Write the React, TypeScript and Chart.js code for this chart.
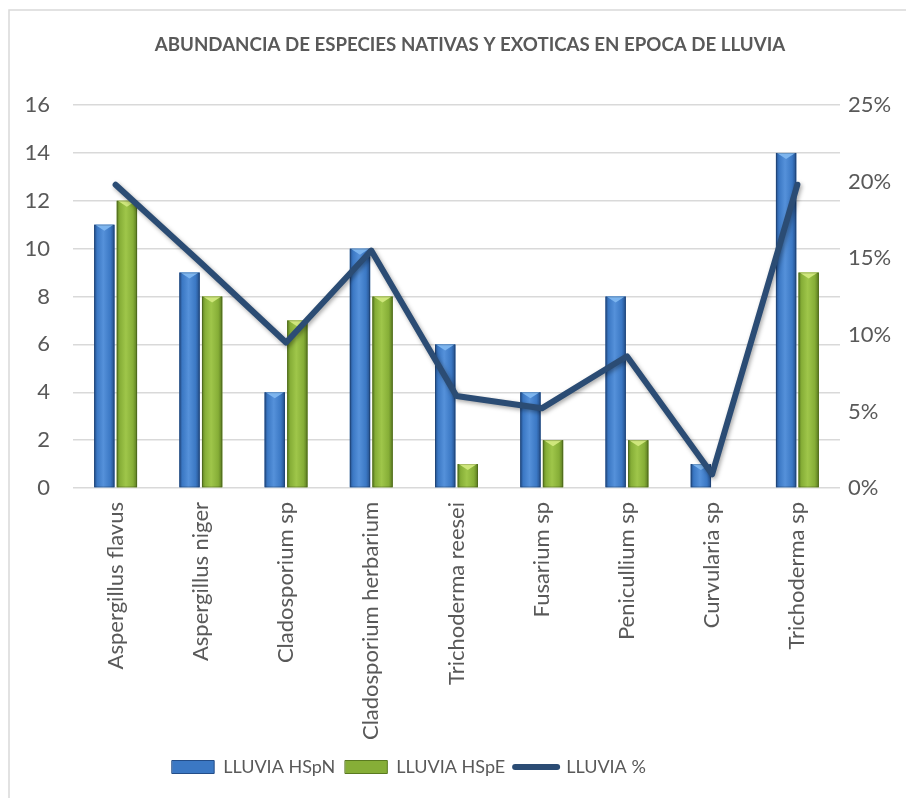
import { useEffect, useRef } from 'react';
import { Chart, registerables } from 'chart.js';

Chart.register(...registerables);

const categories = [
  'Aspergillus flavus',
  'Aspergillus niger',
  'Cladosporium sp',
  'Cladosporium herbarium',
  'Trichoderma reesei',
  'Fusarium sp',
  'Penicullium sp',
  'Curvularia sp',
  'Trichoderma sp',
];
const hspN = [11, 9, 4, 10, 6, 4, 8, 1, 14];
const hspE = [12, 8, 7, 8, 1, 2, 2, 0, 9];
const pct = [19.8, 14.7, 9.5, 15.5, 6.0, 5.2, 8.6, 0.9, 19.8];
const leftTicks = [0, 2, 4, 6, 8, 10, 12, 14, 16];
const rightTicks = [0, 5, 10, 15, 20, 25];

const FONT = "Lato, 'Open Sans', 'DejaVu Sans', sans-serif";
const TEXT = '#595959';
const LINE = '#2b4c74';

const palettes: Record<number, { edge: string; mid: string; light: string; tri: string }> = {
  0: { edge: '#234d88', mid: '#3b78c4', light: '#5591da', tri: '#7db5ef' },
  1: { edge: '#5a7a20', mid: '#86ae37', light: '#9fc64a', tri: '#cfe77c' },
};

const frame = {
  id: 'frame',
  beforeDraw(chart: any) {
    const ctx = chart.ctx;
    ctx.save();
    ctx.strokeStyle = '#d9d9d9';
    ctx.lineWidth = 1.5;
    ctx.beginPath();
    ctx.moveTo(9, chart.height);
    ctx.lineTo(9, 10);
    ctx.lineTo(chart.width, 10);
    ctx.stroke();
    ctx.restore();
  },
  afterLayout(chart: any) {
    // the original chart frame is wider than the picture: shift title centre and legend
    if (chart.titleBlock) chart.titleBlock.left = 34;
    if (chart.legend) {
      chart.legend.left -= 44;
      chart.legend.right -= 44;
    }
  },
};

const barStyle = {
  id: 'barStyle',
  beforeDatasetDraw(chart: any, args: any) {
    if (args.meta.type === 'line') {
      const ctx = chart.ctx;
      ctx.save();
      ctx.shadowColor = 'rgba(0,0,0,0.35)';
      ctx.shadowBlur = 4;
      ctx.shadowOffsetX = 1.5;
      ctx.shadowOffsetY = 2;
    }
  },
  afterDatasetDraw(chart: any, args: any) {
    const ctx = chart.ctx;
    if (args.meta.type === 'line') {
      ctx.restore();
      return;
    }
    const pal = palettes[args.index];
    if (!pal) return;
    ctx.save();
    for (const el of args.meta.data) {
      const w = el.width;
      const left = el.x - w / 2;
      const top = Math.min(el.y, el.base);
      const h = Math.abs(el.base - el.y);
      if (h < 0.5) continue;
      const g = ctx.createLinearGradient(left, 0, left + w, 0);
      g.addColorStop(0, pal.edge);
      g.addColorStop(0.15, pal.mid);
      g.addColorStop(0.45, pal.light);
      g.addColorStop(0.8, pal.mid);
      g.addColorStop(1, pal.edge);
      ctx.fillStyle = g;
      ctx.fillRect(left, top, w, h);
      const th = Math.min(6, h);
      ctx.fillStyle = pal.tri;
      ctx.beginPath();
      ctx.moveTo(left + 1, top);
      ctx.lineTo(left + w - 1, top);
      ctx.lineTo(el.x, top + th);
      ctx.closePath();
      ctx.fill();
      ctx.strokeStyle = 'rgba(0,0,0,0.18)';
      ctx.lineWidth = 1;
      ctx.strokeRect(left + 0.5, top + 0.5, w - 1, h - 1);
    }
    ctx.restore();
  },
};

export default function App() {
  const ref = useRef<HTMLCanvasElement | null>(null);

  useEffect(() => {
    if (!ref.current) return;
    const chart = new Chart(ref.current, {
      type: 'bar',
      data: {
        labels: categories,
        datasets: [
          {
            type: 'bar',
            label: 'LLUVIA HSpN',
            data: hspN,
            backgroundColor: '#3b78c4',
            yAxisID: 'y',
            order: 1,
            barPercentage: 0.9,
            categoryPercentage: 0.53,
          },
          {
            type: 'bar',
            label: 'LLUVIA HSpE',
            data: hspE,
            backgroundColor: '#86ae37',
            yAxisID: 'y',
            order: 1,
            barPercentage: 0.9,
            categoryPercentage: 0.53,
          },
          {
            type: 'line',
            label: 'LLUVIA %',
            data: pct,
            borderColor: LINE,
            backgroundColor: LINE,
            borderWidth: 6,
            pointRadius: 0,
            tension: 0,
            borderCapStyle: 'round',
            borderJoinStyle: 'round',
            yAxisID: 'y1',
            order: 0,
          } as any,
        ],
      },
      options: {
        responsive: false,
        animation: false,
        layout: { padding: { left: 0, right: 0, top: 0, bottom: 12 } },
        plugins: {
          title: {
            display: true,
            text: 'ABUNDANCIA DE ESPECIES NATIVAS Y EXOTICAS EN EPOCA DE LLUVIA',
            color: TEXT,
            font: { family: FONT, size: 18.7, weight: 'bold' },
            padding: { top: 34, bottom: 48.6 },
          },
          legend: {
            position: 'bottom',
            labels: {
              color: TEXT,
              font: { family: FONT, size: 18 },
              usePointStyle: true,
              pointStyleWidth: 42,
              boxHeight: 13,
              padding: 10,
              generateLabels: (ch: any) =>
                ch.data.datasets.map((ds: any, i: number) => {
                  const isLine = ds.type === 'line';
                  return {
                    text: ds.label,
                    datasetIndex: i,
                    fillStyle: isLine ? LINE : palettes[i].mid,
                    strokeStyle: isLine ? LINE : palettes[i].edge,
                    lineWidth: isLine ? 6 : 1,
                    lineCap: 'round',
                    pointStyle: isLine ? 'line' : 'rect',
                    fontColor: TEXT,
                    hidden: false,
                  };
                }),
            },
          },
          tooltip: { enabled: false },
        },
        scales: {
          x: {
            grid: { display: false },
            border: { display: false },
            ticks: {
              color: TEXT,
              font: { family: FONT, size: 22 },
              minRotation: 90,
              maxRotation: 90,
              padding: 6,
            },
            afterFit: (s: any) => {
              s.height = 260;
            },
          },
          y: {
            position: 'left',
            min: 0,
            max: 16,
            afterBuildTicks: (s: any) => {
              s.ticks = leftTicks.map((v) => ({ value: v }));
            },
            ticks: {
              color: TEXT,
              font: { family: FONT, size: 22 },
              padding: 23,
            },
            grid: { color: '#d9d9d9', lineWidth: 1.5, drawTicks: false },
            border: { display: false },
            afterFit: (s: any) => {
              s.width = 73;
            },
          },
          y1: {
            position: 'right',
            min: 0,
            max: 25,
            afterBuildTicks: (s: any) => {
              s.ticks = rightTicks.map((v) => ({ value: v }));
            },
            ticks: {
              color: TEXT,
              font: { family: FONT, size: 22 },
              padding: 8,
              callback: (v: any) => v + '%',
            },
            grid: { display: false, drawTicks: false },
            border: { display: false },
            afterFit: (s: any) => {
              s.width = 66;
            },
          },
        },
      },
      plugins: [frame, barStyle],
    });
    return () => chart.destroy();
  }, []);

  return (
    <div style={{ position: 'absolute', left: 0, top: 0, width: 906, height: 798, background: '#fff' }}>
      <canvas ref={ref} width={906} height={798} />
    </div>
  );
}
